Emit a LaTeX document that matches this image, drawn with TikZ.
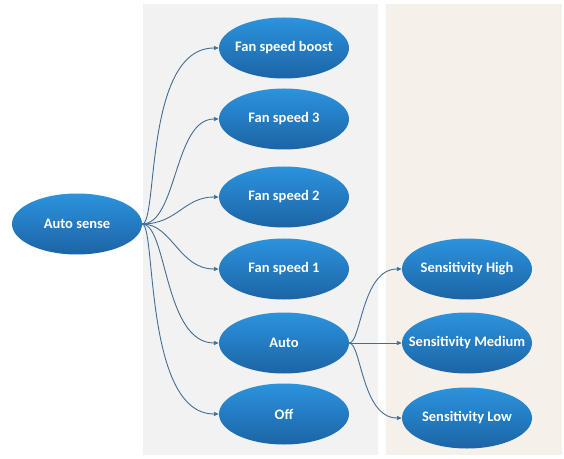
\documentclass[tikz,border=0pt]{standalone}
\usepackage{fontspec}
\setmainfont{Carlito}
\usetikzlibrary{shapes.geometric,arrows.meta}
\newcommand{\modelabel}[1]{\makebox[0pt]{#1}}

\begin{document}
\begin{tikzpicture}[x=1pt,y=1pt]
\definecolor{panelGray}{RGB}{242,242,242}
\definecolor{panelBeige}{RGB}{245,240,234}
\definecolor{topBlue}{RGB}{44,147,221}
\definecolor{botBlue}{RGB}{28,100,166}
\definecolor{linkColor}{RGB}{66,110,150}
\tikzset{
  mode/.style={ellipse,minimum width=130pt,minimum height=61pt,inner sep=0pt,
    top color=topBlue,bottom color=botBlue,draw=none,text=white,
    font=\fontsize{14.5}{16}\selectfont\bfseries},
  link/.style={draw=linkColor,line width=0.9pt,-{Triangle[length=5pt,width=4pt]}}
}
\path[use as bounding box,fill=white] (0,0) rectangle (564,458);
\path[fill=panelGray] (143,3) rectangle (378,454);
\path[fill=panelBeige] (386,3) rectangle (562,454);

\node[mode] (as) at ( 77,234) {\modelabel{Auto sense}};

\node[mode] (boost) at (284,410) {\modelabel{Fan speed boost}};
\node[mode] (f3) at (284,339) {\modelabel{Fan speed 3}};
\node[mode] (f2) at (284,261) {\modelabel{Fan speed 2}};
\node[mode] (f1) at (284,189) {\modelabel{Fan speed 1}};
\node[mode] (auto) at (284,115) {\modelabel{Auto}};
\node[mode] (off) at (284, 44) {\modelabel{Off}};

\node[mode] (high) at (467,189) {\modelabel{Sensitivity High}};
\node[mode] (med) at (467,115) {\modelabel{Sensitivity Medium}};
\node[mode] (low) at (467, 40) {\modelabel{Sensitivity Low}};

\path[link] (as.east) .. controls +(16,0) and +(-75,0) .. (boost.west);
\path[link] (as.east) .. controls +(35,0) and +(-45,0) .. (f3.west);
\path[link] (as.east) .. controls +(35,0) and +(-35,0) .. (f2.west);
\path[link] (as.east) .. controls +(30,0) and +(-40,0) .. (f1.west);
\path[link] (as.east) .. controls +(25,0) and +(-55,0) .. (auto.west);
\path[link] (as.east) .. controls +(14,0) and +(-75,0) .. (off.west);

\path[link] (auto.east) .. controls +(12,0) and +(-40,0) .. (high.west);
\path[link] (auto.east) -- (med.west);
\path[link] (auto.east) .. controls +(12,0) and +(-40,0) .. (low.west);
\end{tikzpicture}
\end{document}
